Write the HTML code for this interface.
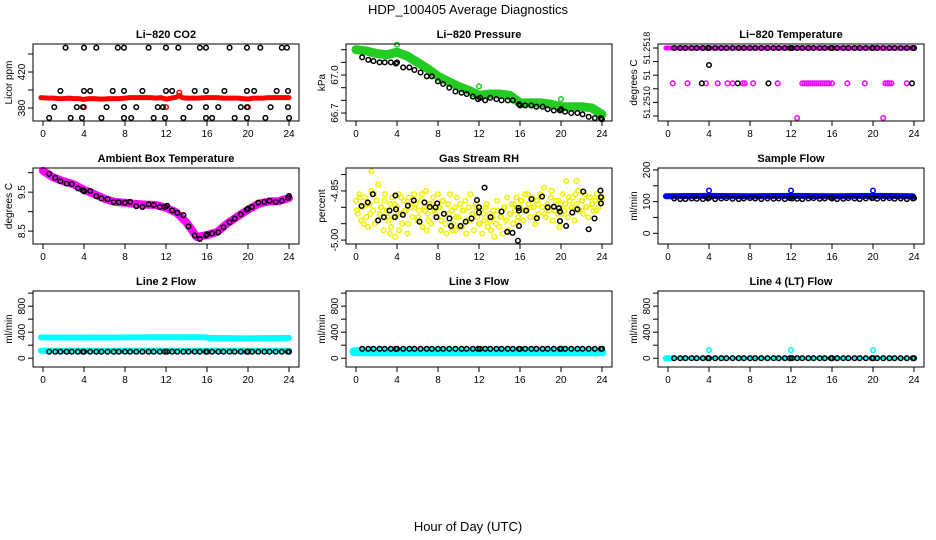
<!DOCTYPE html>
<html><head><meta charset="utf-8"><style>
html,body{margin:0;padding:0;background:#fff;}
svg{display:block;font-family:"Liberation Sans",Arial,sans-serif;}
</style></head><body>
<svg id="chart" width="936" height="540" viewBox="0 0 936 540">
<text x="468" y="14" text-anchor="middle" font-size="13">HDP_100405  Average Diagnostics</text>
<text x="468" y="531" text-anchor="middle" font-size="13">Hour of Day (UTC)</text>
</svg>
<script>
const xTicks=[0,4,8,12,16,20,24];
const sampleHours=[0.6,1.2,1.7,2.3,2.8,3.4,3.9,4.0,4.6,5.2,5.7,6.3,6.9,7.4,8.0,8.5,9.1,9.7,10.3,10.8,11.4,11.9,12.1,12.6,13.1,13.7,14.2,14.8,15.3,15.9,16.0,16.5,17.1,17.6,18.2,18.7,19.3,19.9,20.0,20.4,21.0,21.6,22.1,22.7,23.3,23.9,24.0];
// CO2
const co2RedHours=[-0.2,0.5,1,1.5,2,2.5,3,3.5,3.9,4.5,5,5.5,6,6.5,7,7.5,8,8.5,9,9.5,10,10.5,11,11.5,12,12.5,13,13.3,13.6,14,15,16,16.5,17,17.5,18,18.5,19,19.5,20,20.5,21,21.5,22,22.5,23,23.5,24];
const co2RedValues=[391.5,391,391,390.5,390.5,391,390.5,390.5,389.5,390.5,390.5,390,390,390.5,390.5,390.5,391,391.5,391.5,391.5,391.5,391.5,391,391.5,390,391,392,394,391.5,391,391,391.5,391.5,391.5,391,391,391,391,390.5,390,391,391,391,391.5,391.5,391.5,391.5,391.5];
const co2RedSpikes=[[4,381],[12,381],[20,381],[13.3,397]];
const co2BlackHours=[2.2,4.0,5.2,7.3,7.9,10.3,12.0,13.2,15.3,15.9,18.2,19.9,21.2,23.3,23.8,
1.7,4.0,4.6,6.8,7.9,9.7,12.0,12.6,14.8,15.9,17.7,19.9,20.6,22.8,23.9,
1.1,3.3,3.9,6.2,7.9,9.1,11.2,11.7,14.3,15.9,17.1,19.3,19.9,22.2,23.9,
0.6,2.7,3.8,5.7,7.9,8.6,10.8,11.9,13.7,15.9,16.5,18.7,19.9,21.7,24.0];
const co2BlackValues=[447,447,447,447,447,447,447,447,447,447,447,447,447,447,447,
399,399,399,399,399,399,399,399,399,399,399,399,399,399,399,
381,381,381,381,381,381,381,381,381,381,381,381,381,381,381,
369,369,369,369,369,369,369,369,369,369,369,369,369,369,369];
// Pressure
const presGreenHours=[0,1,2,3,4,5,6,7,8,9,10,11,12,13,14,15,16,17,18,19,20,21,22,23,24];
const presGreenValues=[67.20,67.19,67.17,67.16,67.18,67.15,67.10,67.05,66.99,66.95,66.91,66.88,66.84,66.85,66.85,66.84,66.78,66.78,66.78,66.77,66.75,66.75,66.75,66.74,66.69];
const presGreenOutliers=[[4,67.24],[12,66.91],[20,66.81]];
const presBlackValues=[67.14,67.12,67.11,67.10,67.10,67.10,67.09,67.10,67.06,67.06,67.04,67.02,66.99,66.99,66.95,66.93,66.90,66.87,66.86,66.85,66.83,66.81,66.82,66.80,66.82,66.81,66.80,66.80,66.80,66.77,66.76,66.76,66.76,66.75,66.75,66.73,66.72,66.72,66.73,66.71,66.70,66.70,66.69,66.67,66.66,66.66,66.65];
// Li-820 temperature
const tempBandHours=[-0.2,24];
const tempBandValues=[51.2518,51.2518];
const tempTopValues=[51.2518,51.2518,51.2518,51.2518,51.2518,51.2518,51.2518,51.2518,51.2518,51.2518,51.2518,51.2518,51.2518,51.2518,51.2518,51.2518,51.2518,51.2518,51.2518,51.2518,51.2518,51.2518,51.2518,51.2518,51.2518,51.2518,51.2518,51.2518,51.2518,51.2518,51.2518,51.2518,51.2518,51.2518,51.2518,51.2518,51.2518,51.2518,51.2518,51.2518,51.2518,51.2518,51.2518,51.2518,51.2518,51.2518,51.2518];
const tempMagentaPts=[[0.46,51.25128],[1.9,51.25128],[3.7,51.25128],[4.85,51.25128],[5.8,51.25128],[6.3,51.25128],[7.3,51.25128],[7.5,51.25128],[8.3,51.25128],[10.7,51.25128],[13.1,51.25128],[13.3,51.25128],[13.5,51.25128],[13.7,51.25128],[13.9,51.25128],[14.1,51.25128],[14.3,51.25128],[14.5,51.25128],[14.7,51.25128],[14.9,51.25128],[15.1,51.25128],[15.3,51.25128],[15.5,51.25128],[15.7,51.25128],[16.0,51.25128],[17.5,51.25128],[19.2,51.25128],[21.2,51.25128],[21.4,51.25128],[21.6,51.25128],[21.8,51.25128],[23.3,51.25128],[12.6,51.25077],[21.0,51.25077]];
const tempBlackPts=[[3.3,51.25128],[6.8,51.25128],[9.8,51.25128],[23.8,51.25128],[4.0,51.25155]];
// Ambient box temperature
const ambBandHours=[0,1,2,3,4,5,6,7,8,9,10,11,12,13,14,15,16,17,18,19,20,21,22,23,24];
const ambBandValues=[10.05,9.88,9.78,9.70,9.56,9.45,9.33,9.25,9.23,9.20,9.18,9.17,9.10,8.98,8.72,8.35,8.40,8.48,8.70,8.88,9.05,9.20,9.26,9.27,9.35];
const ambBlackValues=[9.97,9.87,9.78,9.72,9.71,9.60,9.55,9.52,9.53,9.40,9.34,9.32,9.25,9.24,9.23,9.25,9.14,9.12,9.19,9.17,9.12,9.12,9.15,9.03,8.97,8.91,8.62,8.39,8.30,8.39,8.42,8.44,8.47,8.60,8.73,8.82,8.93,9.05,9.08,9.12,9.23,9.25,9.28,9.25,9.28,9.35,9.40];
// Gas stream RH
const rhYellowA=[-4.88,-4.92,-4.86,-4.94,-4.90,-4.87,-4.93,-4.96,-4.89,-4.85,-4.91,-4.95,
-4.88,-4.83,-4.92,-4.90,-4.97,-4.86,-4.91,-4.94,-4.89,-4.87,-4.93,-4.99,
-4.90,-4.86,-4.92,-4.95,-4.88,-4.91,-4.98,-4.87,-4.90,-4.93,-4.86,-4.89,
-4.94,-4.91,-4.88,-4.96,-4.90,-4.85,-4.92,-4.89,-4.95,-4.87,-4.91,-4.93,
-4.86,-4.90,-4.94,-4.88,-4.92,-4.98,-4.89,-4.86,-4.91,-4.95,-4.90,-4.87,
-4.93,-4.89,-4.96,-4.91,-4.88,-4.94,-4.90,-4.86,-4.92,-4.97,-4.89,-4.93,
-4.95,-4.91,-4.98,-4.94,-4.90,-4.96,-4.92,-4.97,-4.93,-4.99,-4.95,-4.91,
-4.96,-4.93,-4.98,-4.90,-4.94,-4.97,-4.92,-4.89,-4.95,-4.91,-4.87,-4.93,
-4.90,-4.88,-4.94,-4.86,-4.91,-4.89,-4.93,-4.87,-4.90,-4.95,-4.88,-4.92,
-4.86,-4.90,-4.84,-4.93,-4.89,-4.91,-4.87,-4.94,-4.90,-4.88,-4.92,-4.96,
-4.89,-4.86,-4.91,-4.82,-4.93,-4.88,-4.90,-4.87,-4.94,-4.89,-4.85,-4.91,
-4.88,-4.92,-4.86,-4.90,-4.93,-4.87,-4.89,-4.91,-4.88,-4.86,-4.90,-4.88,-4.87];
const rhYellowB=[-4.91,-4.87,-4.95,-4.89,-4.92,-4.86,-4.94,-4.90,-4.88,-4.93,-4.96,-4.89,
-4.92,-4.87,-4.91,-4.95,-4.88,-4.90,-4.93,-4.86,-4.91,-4.94,-4.89,-4.92,
-4.90,-4.88,-4.95,-4.92,-4.97,-4.93,-4.96,-4.91,-4.98,-4.94,-4.92,-4.90,
-4.95,-4.92,-4.89,-4.94,-4.91,-4.88,-4.93,-4.90,-4.87,-4.92,-4.89,-4.94,
-4.88,-4.91,-4.86,-4.90,-4.93,-4.89,-4.87,-4.92,-4.90,-4.85,-4.91,-4.88,
-4.92,-4.89,-4.87,-4.90,-4.86,-4.91,-4.88,-4.90,-4.87,-4.89,-4.91,-4.88];
const rhYellowOutliers=[[1.5,-4.79],[21.5,-4.82],[3.3,-4.98],[4.2,-4.97],[6.9,-4.97],[8.3,-4.97],[9.7,-4.97]];
const rhBlackPts=[[0.54,-4.896],[1.15,-4.885],[1.64,-4.86],[2.16,-4.94],[2.72,-4.93],[3.27,-4.91],[3.85,-4.864],[3.9,-4.906],[3.8,-4.93],[4.57,-4.923],[5.06,-4.895],[5.64,-4.879],[6.2,-4.944],[6.68,-4.885],[7.2,-4.899],[7.76,-4.90],[7.92,-4.888],[7.85,-4.93],[8.57,-4.92],[9.12,-4.934],[9.28,-4.957],[10.2,-4.957],[10.7,-4.944],[11.27,-4.934],[11.8,-4.878],[12.0,-4.90],[12.0,-4.916],[12.54,-4.84],[13.12,-4.93],[14.2,-4.913],[14.75,-4.975],[15.27,-4.978],[15.85,-4.902],[15.9,-4.91],[15.9,-4.957],[15.8,-5.002],[16.6,-4.91],[17.12,-4.875],[17.64,-4.933],[18.16,-4.867],[18.7,-4.90],[19.3,-4.898],[19.8,-4.903],[19.9,-4.942],[19.9,-4.913],[20.5,-4.957],[21.1,-4.916],[21.6,-4.906],[22.17,-4.852],[22.7,-4.967],[23.27,-4.934],[23.85,-4.849],[23.9,-4.869],[23.9,-4.888]];
// Sample flow
const sfBandHours=[-0.2,4,8,12,16,20,23.9];
const sfBandValues=[117,118,117,118,117,118,117];
const sfOutliers=[[4,135],[12,135],[20,135]];
const sfBlackValues=[110,108,108,110,109,108,110,112,108,110,111,109,108,110,111,110,108,110,109,110,108,111,110,109,108,110,111,109,110,112,110,108,109,111,110,108,110,111,112,109,110,111,109,110,108,110,111];
// Line flows
const l2UpperHours=[-0.2,4,8,12,15.8,16.2,20,24];
const l2UpperValues=[320,318,320,322,322,312,305,312];
const l2LowerHours=[-0.2,24];
const l2LowerValues=[115,115];
const l2BlackValues=[100,100,100,100,100,100,100,100,100,100,100,100,100,100,100,100,100,100,100,100,100,100,100,100,100,100,100,100,100,100,100,100,100,100,100,100,100,100,100,100,100,100,100,100,100,100,100];
const l3BandHours=[-0.2,24];
const l3BandValues=[100,100];
const l3BlackValues=[145,145,145,145,145,145,145,145,145,145,145,145,145,145,145,145,145,145,145,145,145,145,145,145,145,145,145,145,145,145,145,145,145,145,145,145,145,145,145,145,145,145,145,145,145,145,145];
const l4BandHours=[-0.2,0.3];
const l4BandValues=[0,0];
const l4LineHours=[0.3,24];
const l4LineValues=[0,0];
const l4Outliers=[[4,125],[12,125],[20,125]];
const l4BlackValues=[0,0,0,0,0,0,0,0,0,0,0,0,0,0,0,0,0,0,0,0,0,0,0,0,0,0,0,0,0,0,0,0,0,0,0,0,0,0,0,0,0,0,0,0,0,0,0];

const NS='http://www.w3.org/2000/svg';
const svg=document.getElementById('chart');
function mk(tag,attrs,parent){const e=document.createElementNS(NS,tag);for(const k in attrs)e.setAttribute(k,attrs[k]);parent.appendChild(e);return e;}

function panel(key,x0,x1,y0,y1,ydom,yticks,ylabels,title,ytitle,lblSize){
  const g=mk('g',{},svg);
  
  
  const sx=h=>x0+10+h*10.25;
  const sy=v=>y1-(v-ydom[0])/(ydom[1]-ydom[0])*(y1-y0);
  const t=mk('text',{x:(x0+x1)/2,y:y0-6,'text-anchor':'middle','font-size':'11','font-weight':'bold'},g);
  t.textContent=title;
  
  
  const data=mk('g',{},g);
  
  
  const ax=mk('g',{stroke:'#000','stroke-width':'1',fill:'none'},g);
  
  
  const box=mk('rect',{x:x0,y:y0,width:x1-x0,height:y1-y0},ax);
  
  
  xTicks.forEach(h=>{
    const tk=mk('line',{x1:sx(h),x2:sx(h),y1:y1,y2:y1+5},ax);
    
    
    const lb=mk('text',{x:sx(h),y:y1+16,'text-anchor':'middle','font-size':'10'},g);
    lb.textContent=String(h);
    
    
  });
  yticks.forEach(v=>{
    const tk=mk('line',{x1:x0-5,x2:x0,y1:sy(v),y2:sy(v)},ax);
    
    
  });
  ylabels.forEach(p=>{
    const yy=sy(p[0]);
    const lb=mk('text',{x:0,y:0,'text-anchor':'middle','font-size':lblSize||'10',transform:'translate('+(x0-8)+','+yy+') rotate(-90)'},g);
    lb.textContent=p[1];
    
    
  });
  const yt=mk('text',{x:0,y:0,'text-anchor':'middle','font-size':'10',transform:'translate('+(x0-21)+','+((y0+y1)/2)+') rotate(-90)'},g);
  yt.textContent=ytitle;
  
  
  return {g:data,sx,sy};
}
function band(p,hours,vals,color,w,name){
  const pts=hours.map((h,i)=>p.sx(h)+','+p.sy(vals[i])).join(' ');
  const pl=mk('polyline',{points:pts,fill:'none',stroke:color,'stroke-width':w,'stroke-linecap':'round','stroke-linejoin':'round'},p.g);
  
  
}
function dots(p,hours,vals,color,name){
  hours.forEach((h,i)=>{
    const c=mk('circle',{cx:p.sx(h),cy:p.sy(vals[i]),r:'2.3',fill:'none',stroke:color,'stroke-width':'1.5'},p.g);
    
    
  });
}
function pairs(p,arr,color,name){dots(p,arr.map(a=>a[0]),arr.map(a=>a[1]),color,name);}

const C1=[33,299],C2=[346,612],C3=[658,924];
const R1=[44,121],R2=[168,244],R3=[291,367];
const flowDom=[-135,1033],flowTicks=[0,200,400,600,800,1000],flowLabels=[[0,'0'],[400,'400'],[800,'800']];

let p=panel('co2',C1[0],C1[1],R1[0],R1[1],[365.6,451.1],[380,400,420,440],[[380,'380'],[420,'420']],'Li\u2212820 CO2','Licor ppm');
band(p,co2RedHours,co2RedValues,'#ff0000',5,'co2-series-red');
pairs(p,co2RedSpikes,'#ff0000','co2-red-point');
dots(p,co2BlackHours,co2BlackValues,'#000','co2-black-point');

p=panel('pressure',C2[0],C2[1],R1[0],R1[1],[66.637,67.245],[66.7,66.8,66.9,67.0,67.1,67.2],[[66.7,'66.7'],[67.0,'67.0']],'Li\u2212820 Pressure','kPa');
band(p,presGreenHours,presGreenValues,'#22cc22',9,'pressure-series-green');
pairs(p,presGreenOutliers,'#22cc22','pressure-green-point');
dots(p,sampleHours,presBlackValues,'#000','pressure-black-point');

p=panel('li820-temp',C3[0],C3[1],R1[0],R1[1],[51.250726,51.251859],[51.2518,51.2516,51.2514,51.2512,51.2510,51.2508],[[51.2518,'51.2518'],[51.2514,'51'],[51.2510,'51.2510']],'Li\u2212820 Temperature','degrees C','9');
band(p,tempBandHours,tempBandValues,'#ff00ff',5,'temp-series-magenta');
pairs(p,tempMagentaPts,'#ff00ff','temp-magenta-point');
dots(p,sampleHours,tempTopValues,'#000','temp-black-point');
pairs(p,tempBlackPts,'#000','temp-black-point');

p=panel('ambient-temp',C1[0],C1[1],R2[0],R2[1],[8.17,10.12],[8.5,9.0,9.5,10.0],[[8.5,'8.5'],[9.5,'9.5']],'Ambient Box Temperature','degrees C');
band(p,ambBandHours,ambBandValues,'#ff00ff',8,'ambient-series-magenta');
dots(p,sampleHours,ambBlackValues,'#000','ambient-black-point');

p=panel('gas-rh',C2[0],C2[1],R2[0],R2[1],[-5.012,-4.78],[-5.00,-4.95,-4.90,-4.85,-4.80],[[-5.00,'-5.00'],[-4.85,'-4.85']],'Gas Stream RH','percent');
dots(p,rhYellowA.map((v,i)=>i/6),rhYellowA,'#f0f000','rh-yellow-point');
dots(p,rhYellowB.map((v,i)=>0.08+i/3),rhYellowB,'#f0f000','rh-yellow-point');
pairs(p,rhYellowOutliers,'#f0f000','rh-yellow-point');
pairs(p,rhBlackPts,'#000','rh-black-point');

p=panel('sample-flow',C3[0],C3[1],R2[0],R2[1],[-33.8,206],[0,50,100,150,200],[[0,'0'],[100,'100'],[200,'200']],'Sample Flow','ml/min');
band(p,sfBandHours,sfBandValues,'#0000ff',6,'sample-flow-series-blue');
pairs(p,sfOutliers,'#0000ff','sample-flow-blue-point');
dots(p,sampleHours,sfBlackValues,'#000','sample-flow-black-point');

p=panel('line2-flow',C1[0],C1[1],R3[0],R3[1],flowDom,flowTicks,flowLabels,'Line 2 Flow','ml/min');
band(p,l2UpperHours,l2UpperValues,'#00ffff',6,'line2-series-upper');
band(p,l2LowerHours,l2LowerValues,'#00ffff',6,'line2-series-lower');
dots(p,sampleHours,l2BlackValues,'#000','line2-black-point');

p=panel('line3-flow',C2[0],C2[1],R3[0],R3[1],flowDom,flowTicks,flowLabels,'Line 3 Flow','ml/min');
band(p,l3BandHours,l3BandValues,'#00ffff',9,'line3-series-cyan');
dots(p,sampleHours,l3BlackValues,'#000','line3-black-point');

p=panel('line4-flow',C3[0],C3[1],R3[0],R3[1],flowDom,flowTicks,flowLabels,'Line 4 (LT) Flow','ml/min');
band(p,l4BandHours,l4BandValues,'#00ffff',6,'line4-series-cyan');
band(p,l4LineHours,l4LineValues,'#00ffff',3,'line4-series-cyan-line');
pairs(p,l4Outliers,'#00ffff','line4-cyan-point');
dots(p,sampleHours,l4BlackValues,'#000','line4-black-point');
</script>
</body></html>
